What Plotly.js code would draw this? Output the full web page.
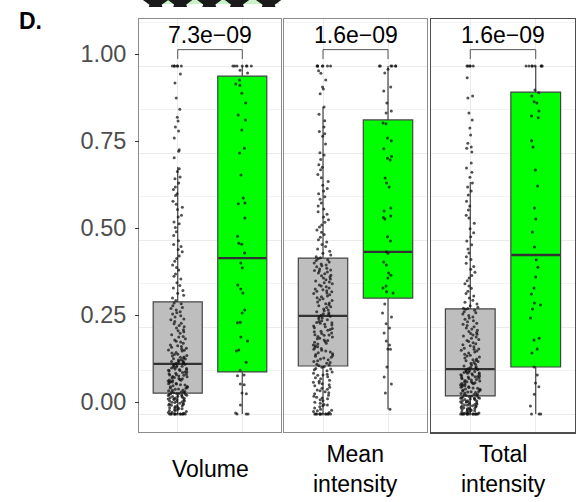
<!DOCTYPE html>
<html><head><meta charset="utf-8">
<script src="https://cdn.plot.ly/plotly-3.0.1.min.js"></script>
<style>html,body{margin:0;padding:0;background:#fff}#chart{width:576px;height:502px}</style>
</head><body><div id="chart"></div>
<script>
// ---------- data ----------
const panels = ['Volume', 'Mean<br>intensity', 'Total<br>intensity'];
const pValues = ['7.3e\u221209', '1.6e\u221209', '1.6e\u221209'];
const groupPos = [1, 2];
const yTickVals = [0, 0.25, 0.5, 0.75, 1];
const yTickText = ['0.00', '0.25', '0.50', '0.75', '1.00'];

// precomputed box statistics per panel (Volume, Mean intensity, Total intensity)
const greyQ1 = [0.060, 0.138, 0.052];
const greyMedian = [0.144, 0.282, 0.129];
const greyQ3 = [0.322, 0.448, 0.302];
const greyLower = [0, 0, 0];
const greyUpper = [0.710, 0.882, 0.667];
const greenQ1 = [0.121, 0.333, 0.135];
const greenMedian = [0.448, 0.466, 0.457];
const greenQ3 = [0.971, 0.845, 0.925];
const greenLower = [0, 0.014, 0];
const greenUpper = [1, 1, 1];

// individual observations
const greyVolume = [1,1,1,1,1,1,0.977,0.951,0.908,0.876,0.853,0.842,0.825,0.813,0.793,0.759,0.755,0.736,
0.705,0.697,0.681,0.676,0.664,0.652,0.645,0.633,0.628,0.611,0.603,0.594,0.588,0.571,0.566,0.552,0.547,0.536,0.524,0.513,
0.498,0.487,0.481,0.473,0.466,0.454,0.447,0.439,0.428,0.421,0.414,0.402,0.396,0.388,0.377,0.369,0.362,0.355,0.347,0.341,0.333,0.326,
0.319,0.317,0.311,0.306,0.303,0.299,0.294,0.291,0.287,0.282,0.279,0.273,0.271,0.266,0.261,0.259,0.254,0.251,0.247,0.242,0.239,0.236,0.232,0.228,0.223,0.221,0.216,0.213,0.209,0.207,0.203,0.198,0.196,0.192,0.189,0.187,0.183,0.181,0.177,0.175,0.172,0.168,0.167,0.164,0.161,0.159,0.156,0.155,0.153,0.151,0.149,0.148,0.146,0.145,0.152,0.158,0.163,0.171,0.184,0.194,
0.143,0.142,0.139,0.138,0.137,0.135,0.134,0.132,0.131,0.129,0.128,0.126,0.125,0.124,0.121,0.121,0.119,0.117,0.116,0.114,0.113,0.111,0.109,0.108,0.107,0.105,0.104,0.102,0.101,0.099,0.098,0.096,0.095,0.093,0.092,0.091,0.088,0.087,0.086,0.084,0.083,0.081,0.079,0.078,0.077,0.075,0.074,0.072,0.071,0.069,0.068,0.067,0.065,0.064,0.063,0.062,0.061,0.097,0.112,0.127,
0,0,0,0,0,0,0,0,0,0,0,0,0.002,0.004,0.005,0.007,0.009,0.010,0.012,0.013,0.015,0.017,0.018,0.019,0.021,0.023,0.024,0.025,0.027,0.029,0.030,0.031,0.033,0.034,0.035,0.037,0.038,0.040,0.041,0.042,0.043,0.045,0.046,0.047,0.048,0.050,0.051,0.052,0.053,0.054,0.055,0.056,0.057,0.058,0.059,0.059,0.044,0.036,0.026,0.016];
const greenVolume = [1,1,1,1,1,1,1,0.988,0.980,0.960,0.948,0.945,0.922,0.894,0.859,0.845,0.816,0.764,0.750,0.687,0.621,0.606,0.604,0.563,
0.511,0.491,0.488,0.463,0.434,0.420,0.371,0.359,0.348,0.299,0.290,0.264,0.262,0.221,0.210,0.184,0.181,0.149,0.126,0.112,0.110,0.086,0.084,0.060,0.058,0.026,0.003,0,0,0];
const greyMean = [1,1,1,1,1,1,1,0.986,0.979,0.960,0.940,0.934,0.920,
0.882,0.861,0.843,0.825,0.812,0.805,0.798,0.776,0.751,0.744,0.731,0.716,0.709,0.702,0.688,0.679,0.668,0.657,0.648,0.641,0.633,0.624,0.617,0.606,0.598,0.589,0.581,0.574,0.566,0.558,0.551,0.543,0.537,0.529,0.522,0.516,0.508,0.501,0.494,0.487,0.481,0.474,0.468,0.462,0.457,0.452,0.449,
0.446,0.443,0.441,0.437,0.434,0.431,0.428,0.426,0.423,0.419,0.417,0.414,0.411,0.408,0.405,0.403,0.399,0.397,0.394,0.391,0.388,0.386,0.382,0.379,0.377,0.374,0.371,0.368,0.366,0.362,0.359,0.357,0.354,0.351,0.348,0.346,0.343,0.339,0.337,0.334,0.331,0.328,0.326,0.322,0.319,0.317,0.314,0.311,0.308,0.306,0.302,0.299,0.297,0.294,0.291,0.288,0.286,0.284,0.353,0.412,
0.281,0.279,0.276,0.274,0.271,0.268,0.266,0.263,0.261,0.258,0.256,0.253,0.251,0.248,0.246,0.243,0.241,0.238,0.236,0.233,0.231,0.228,0.226,0.223,0.221,0.218,0.216,0.213,0.211,0.208,0.206,0.203,0.201,0.198,0.196,0.193,0.191,0.188,0.186,0.183,0.181,0.178,0.176,0.173,0.171,0.168,0.166,0.163,0.161,0.158,0.156,0.153,0.151,0.148,0.146,0.143,0.141,0.139,0.227,0.262,
0,0,0,0,0,0,0,0,0,0,0,0,0.004,0.007,0.011,0.014,0.017,0.021,0.024,0.027,0.031,0.034,0.038,0.041,0.044,0.048,0.051,0.054,0.058,0.061,0.064,0.067,0.071,0.074,0.077,0.081,0.084,0.087,0.091,0.094,0.097,0.101,0.104,0.107,0.111,0.114,0.117,0.121,0.124,0.127,0.131,0.134,0.136,0.009,0.046,0.069,0.089,0.112,0.129,0.026];
const greenMean = [1,1,1,1,1,1,0.991,0.980,0.940,0.928,0.894,0.871,0.865,
0.836,0.834,0.793,0.785,0.762,0.740,0.735,0.730,0.678,0.664,0.652,0.592,0.583,0.569,0.565,0.560,
0.509,0.497,0.466,0.462,0.437,0.428,0.405,0.399,0.391,0.368,0.362,0.351,0.348,
0.316,0.290,0.279,0.259,0.247,0.233,0.210,0.198,0.187,0.186,0.135,0.106,0.086,0.060,0.014];
const greyTotal = [1,1,1,1,1,0.966,0.914,0.908,0.865,0.845,0.822,0.802,0.778,0.767,0.764,0.753,0.721,0.707,0.695,0.680,
0.664,0.652,0.641,0.629,0.611,0.598,0.586,0.571,0.563,0.548,0.532,0.521,0.509,0.497,0.486,0.474,0.463,0.452,0.444,0.433,0.424,0.416,0.407,0.398,0.391,0.383,0.374,0.368,0.361,0.353,0.346,0.339,0.333,0.327,0.321,0.316,0.311,0.307,0.304,0.303,
0.301,0.298,0.294,0.291,0.287,0.283,0.279,0.276,0.272,0.268,0.265,0.261,0.258,0.254,0.251,0.247,0.244,0.241,0.237,0.234,0.231,0.227,0.224,0.221,0.218,0.214,0.211,0.208,0.205,0.202,0.199,0.196,0.193,0.189,0.186,0.183,0.181,0.178,0.175,0.172,0.169,0.167,0.164,0.161,0.158,0.156,0.153,0.151,0.148,0.146,0.143,0.141,0.138,0.136,0.134,0.132,0.131,0.154,0.187,0.229,
0.128,0.127,0.125,0.124,0.122,0.121,0.119,0.118,0.116,0.115,0.113,0.112,0.110,0.109,0.107,0.106,0.104,0.103,0.101,0.099,0.098,0.096,0.095,0.093,0.092,0.090,0.089,0.087,0.086,0.084,0.083,0.081,0.080,0.078,0.077,0.075,0.074,0.072,0.071,0.069,0.068,0.066,0.065,0.063,0.062,0.060,0.059,0.057,0.056,0.055,0.054,0.053,0.076,0.088,0.102,0.117,0.064,0.093,0.108,0.121,
0,0,0,0,0,0,0,0,0,0,0,0,0,0,0.002,0.003,0.004,0.006,0.007,0.008,0.009,0.011,0.012,0.013,0.014,0.016,0.017,0.018,0.019,0.021,0.022,0.023,0.024,0.026,0.027,0.028,0.029,0.031,0.032,0.033,0.034,0.036,0.037,0.038,0.039,0.041,0.042,0.043,0.044,0.045,0.046,0.047,0.048,0.049,0.050,0.051,0.015,0.025,0.035,0.045];
const greenTotal = [1,1,1,1,1,1,1,1,0.931,0.923,0.914,0.897,0.894,0.871,0.856,0.851,0.785,0.767,0.701,0.655,0.592,0.560,
0.523,0.480,0.443,0.422,0.394,0.362,0.345,0.319,0.313,0.302,0.276,0.218,0.213,0.187,0.175,0.135,0.112,0.089,0.078,0.057,0.023,0,0,0];

const greyPoints = [greyVolume, greyMean, greyTotal];
const greenPoints = [greenVolume, greenMean, greenTotal];

// decoration (bottom edge of the figure above, cut off)
const starX = [0.117, 0.29, 0.495, 0.69, 0.913];
const starY = [0.2, 0.3, 0.3, 0.3, 0.2];

// bracket & label heights (data units)
const bracketLow = 1.02, bracketHigh = 1.047, pLabelY = 1.09;

// ---------- styling ----------
const FONT = 'Liberation Sans, Arial, Helvetica, sans-serif';
const GREY_FILL = '#bebebe', GREEN_FILL = '#00ff00', BOX_LINE = '#444444';
const BOX_W = 0.76;
const xDomains = [[139/576, 281/576], [284/576, 427/576], [431/576, 575/576]];
const yDomain = [70/502, 483/502];
const yRange = [-18/348, 395/348];         // data: 0 at y=414px, 1 at y=66px
const labelRange = [-30/348, 383/348];     // tick labels sit 12px higher

const traces = [];
const layout = {
  width: 576, height: 502,
  margin: {l: 0, r: 0, t: 0, b: 0},
  paper_bgcolor: '#ffffff', plot_bgcolor: 'rgba(0,0,0,0)',
  showlegend: false, boxmode: 'overlay',
  font: {family: FONT, color: '#000'},
  annotations: [], shapes: []
};

for (let p = 0; p < 3; p++) {
  const sfx = p === 0 ? '' : String(p + 1);
  const xa = 'x' + sfx, ya = 'y' + sfx;
  const stats = [
    {pos: groupPos[0], q1: greyQ1[p], med: greyMedian[p], q3: greyQ3[p], lo: greyLower[p], hi: greyUpper[p], fill: GREY_FILL},
    {pos: groupPos[1], q1: greenQ1[p], med: greenMedian[p], q3: greenQ3[p], lo: greenLower[p], hi: greenUpper[p], fill: GREEN_FILL}
  ];
  stats.forEach(s => {
    traces.push({type: 'box', xaxis: xa, yaxis: ya, x: [s.pos], q1: [s.q1], median: [s.med], q3: [s.q3],
      lowerfence: [s.lo], upperfence: [s.hi], width: BOX_W, whiskerwidth: 0, boxpoints: false,
      fillcolor: s.fill, line: {color: BOX_LINE, width: 1.2}, hoverinfo: 'skip'});
  });
  // thicker median lines
  stats.forEach(s => {
    traces.push({type: 'box', xaxis: xa, yaxis: ya, x: [s.pos], q1: [s.med], median: [s.med], q3: [s.med],
      lowerfence: [s.med], upperfence: [s.med], width: BOX_W - 0.02, whiskerwidth: 0, boxpoints: false,
      fillcolor: 'rgba(0,0,0,0)', line: {color: '#333333', width: 2.4}, hoverinfo: 'skip'});
  });
  // jittered observations
  [greyPoints[p], greenPoints[p]].forEach((vals, g) => {
    traces.push({type: 'box', xaxis: xa, yaxis: ya, y: vals, x0: groupPos[g], width: 0.3,
      boxpoints: 'all', jitter: 1, pointpos: 0, fillcolor: 'rgba(0,0,0,0)',
      line: {color: 'rgba(0,0,0,0)', width: 0},
      marker: {size: 3, color: 'rgba(15,15,15,0.72)', line: {width: 0}}, hoverinfo: 'y'});
  });
  // significance bracket
  traces.push({type: 'scatter', mode: 'lines', xaxis: xa, yaxis: ya,
    x: [groupPos[0], groupPos[0], groupPos[1], groupPos[1]],
    y: [bracketLow, bracketHigh, bracketHigh, bracketLow],
    line: {color: '#555555', width: 1}, hoverinfo: 'skip'});

  const last = p === 2;
  layout['xaxis' + sfx] = {domain: xDomains[p], anchor: ya, type: 'linear', range: [0.4, 2.6],
    tickvals: groupPos, showticklabels: false, ticks: '', showgrid: true, gridcolor: '#ebebeb', gridwidth: 1,
    zeroline: false, showline: true, mirror: true, linecolor: last ? '#4d4d4d' : '#8c8c8c', linewidth: last ? 1.5 : 1,
    fixedrange: true};
  layout['yaxis' + sfx] = {domain: yDomain, anchor: xa, range: yRange, tick0: 0, dtick: 0.25,
    showticklabels: false, ticks: '', showgrid: true, gridcolor: '#ebebeb', gridwidth: 1,
    minor: {dtick: 0.125, showgrid: true, gridcolor: '#f3f3f3', gridwidth: 1},
    zeroline: false, showline: true, mirror: true, linecolor: last ? '#4d4d4d' : '#8c8c8c', linewidth: last ? 1.5 : 1,
    fixedrange: true};

  layout.annotations.push({xref: xa, yref: ya, x: (groupPos[0] + groupPos[1]) / 2, y: pLabelY,
    text: pValues[p], showarrow: false, xanchor: 'center', yanchor: 'middle',
    font: {family: FONT, size: 23, color: '#000'}});
  layout.annotations.push({xref: xa, yref: 'paper', x: (groupPos[0] + groupPos[1]) / 2, y: 33/502,
    text: panels[p], showarrow: false, xanchor: 'center', yanchor: 'middle',
    font: {family: FONT, size: 23, color: '#000'}});
}

// tick-label axis (left of first panel)
traces.push({type: 'scatter', mode: 'markers', xaxis: 'x', yaxis: 'y4', x: [groupPos[0]], y: [yTickVals[0]],
  marker: {opacity: 0}, hoverinfo: 'skip'});
layout.yaxis4 = {overlaying: 'y', anchor: 'free', position: xDomains[0][0], side: 'left', range: labelRange,
  tickvals: yTickVals, ticktext: yTickText, ticks: 'outside', ticklen: 4, tickwidth: 1, tickcolor: '#333333',
  ticklabelstandoff: 4, tickfont: {family: FONT, size: 23.5, color: '#4d4d4d'},
  showgrid: false, zeroline: false, showline: false, fixedrange: true};

// cut-off decoration at top
layout.shapes.push({type: 'rect', xref: 'paper', yref: 'paper', x0: 147/576, x1: 279/576, y0: 1 - 4/502, y1: 1,
  fillcolor: '#c8f2c8', line: {width: 0}, layer: 'below'});
traces.push({type: 'scatter', mode: 'markers', xaxis: 'x5', yaxis: 'y5', x: starX, y: starY, cliponaxis: true,
  marker: {symbol: 'star', size: 24, color: '#1a1a1a'}, hoverinfo: 'skip'});
layout.xaxis5 = {domain: xDomains[0], anchor: 'y5', range: [0, 1], visible: false, fixedrange: true};
layout.yaxis5 = {domain: [1 - 7/502, 1], anchor: 'x5', range: [-1, 1], visible: false, fixedrange: true};

layout.annotations.push({xref: 'paper', yref: 'paper', x: 17/576, y: 1 - 21/502, xanchor: 'left', yanchor: 'middle',
  text: '<b>D.</b>', showarrow: false, font: {family: FONT, size: 23, color: '#000'}});

Plotly.newPlot('chart', traces, layout, {staticPlot: true, displayModeBar: false});
</script>
</body></html>
